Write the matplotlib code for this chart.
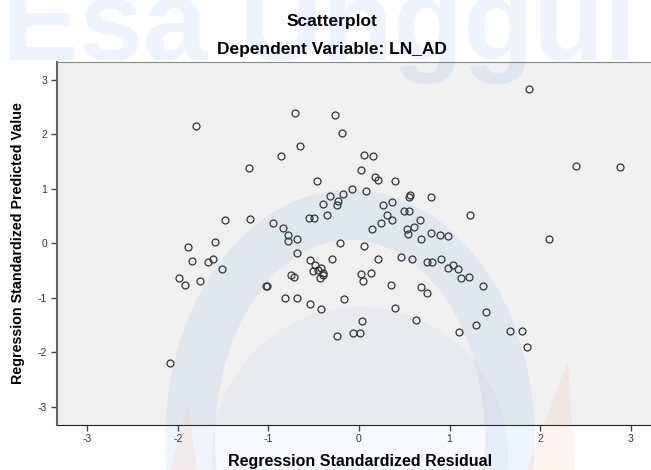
import matplotlib
matplotlib.use('Agg')
import matplotlib.pyplot as plt
from matplotlib.patches import Annulus, Circle, Polygon

plt.rcParams['font.family'] = ['Liberation Sans', 'DejaVu Sans']
plt.rcParams['axes.unicode_minus'] = False

# regression standardized residual (x) vs standardized predicted value (y)
resid = [-1.80, -0.71, -0.86, -1.22, -0.65, -0.27, -0.19, 0.06, 0.15, 0.02,
         -0.46, 0.18, 0.21, 0.40, -0.08, 0.08, -0.32, -0.18, 0.56, 0.55,
         0.80, 1.88, 2.40, 2.88, -1.48, -1.20, -0.95, -0.84, -0.78, -0.78,
         -0.68, -0.69, -1.89, -1.59, -1.85, -1.67, -1.61, -1.51, -1.99, -1.92,
         -1.76, -1.03, -1.02, -0.75, -0.72, -0.82, -0.68, -0.40, -0.23, -0.24,
         -0.55, -0.50, -0.35, -0.21, 0.05, 0.27, 0.37, 0.31, 0.24, 0.36,
         0.14, 0.50, 0.55, 0.67, 0.53, 0.61, 0.54, 0.68, 0.80, 0.90,
         0.98, -0.54, -0.49, -0.51, -0.45, -0.42, -0.40, -0.40, -0.43, -0.30,
         0.21, 0.46, 0.58, 0.75, 0.81, 0.91, 0.98, 1.04, 1.09, 1.13,
         1.21, 1.37, 1.40, 1.29, 1.11, 1.67, 1.80, 1.86, 0.02, 0.13,
         0.04, 0.35, 0.69, 0.75, -0.54, -0.42, -0.17, 0.40, 0.03, 0.63,
         -0.24, -0.07, 0.01, -2.09, 1.23, 2.10]
pred = [2.16, 2.40, 1.61, 1.38, 1.79, 2.36, 2.03, 1.62, 1.61, 1.35,
        1.14, 1.21, 1.16, 1.14, 1.00, 0.96, 0.87, 0.90, 0.89, 0.85,
        0.85, 2.83, 1.41, 1.40, 0.42, 0.45, 0.38, 0.28, 0.16, 0.04,
        0.07, -0.17, -0.07, 0.02, -0.33, -0.34, -0.28, -0.47, -0.63, -0.77,
        -0.69, -0.78, -0.79, -0.58, -0.62, -1.01, -1.01, 0.72, 0.77, 0.71,
        0.47, 0.47, 0.51, 0.01, -0.05, 0.70, 0.75, 0.51, 0.37, 0.42,
        0.26, 0.59, 0.59, 0.43, 0.26, 0.29, 0.17, 0.07, 0.18, 0.15,
        0.14, -0.30, -0.39, -0.50, -0.49, -0.45, -0.54, -0.59, -0.64, -0.29,
        -0.28, -0.25, -0.29, -0.35, -0.35, -0.29, -0.45, -0.39, -0.48, -0.64,
        -0.62, -0.78, -1.26, -1.50, -1.62, -1.61, -1.61, -1.90, -0.56, -0.54,
        -0.70, -0.76, -0.80, -0.91, -1.11, -1.21, -1.03, -1.18, -1.43, -1.41,
        -1.71, -1.64, -1.64, -2.19, 0.51, 0.07]
ticks = [-3, -2, -1, 0, 1, 2, 3]

fig = plt.figure(figsize=(6.51, 4.70), dpi=100)
ax = fig.add_axes([0.087, 0.0964, 0.915, 0.772])
ax.set_facecolor('#f0f0f0')
ax.plot(resid, pred, 'o', fillstyle='none', markersize=5, mew=0.9,
        color='#333333', linestyle='none')
ax.set_xlim(-3.34, 3.24)
ax.set_ylim(-3.33, 3.33)
ax.set_xticks(ticks)
ax.set_yticks(ticks)
ax.tick_params(direction='out', length=4, width=1, color='#444444',
               labelsize=7.5, labelcolor='#333333', pad=3)
ax.spines['left'].set_color('#666666')
ax.spines['left'].set_linewidth(1.5)
ax.spines['bottom'].set_color('#222222')
ax.spines['top'].set_color('#888888')
ax.spines['right'].set_visible(False)

fig.text(0.51, 0.955, 'Scatterplot', ha='center', va='center',
         fontsize=12.5, fontweight='bold')
fig.text(0.51, 0.894, 'Dependent Variable: LN_AD', ha='center', va='center',
         fontsize=12.5, fontweight='bold')
fig.text(0.553, 0.0175, 'Regression Standardized Residual', ha='center',
         va='center', fontsize=11.5, fontweight='bold')
fig.text(0.028, 0.482, 'Regression Standardized Predicted Value', ha='center',
         va='center', rotation=90, fontsize=10.3, fontweight='bold')

# faint watermark overlay
ov = fig.add_axes([0, 0, 1, 1], zorder=5)
ov.set_xlim(0, 651)
ov.set_ylim(0, 470)
ov.axis('off')
ov.patch.set_alpha(0)
blue = (0.2, 0.4, 0.8)
ov.add_patch(Annulus((350, 30), (185, 250), 50, color=blue, alpha=0.07, lw=0))
ov.add_patch(Circle((360, 15), 148, color=blue, alpha=0.04, lw=0))
peach = (0.95, 0.5, 0.3)
ov.add_patch(Polygon([(568, 110), (527, 0), (575, 0)], color=peach, alpha=0.08, lw=0))
ov.add_patch(Polygon([(188, 67), (170, 0), (197, 0)], color=peach, alpha=0.08, lw=0))
ov.text(2, 410, 'Esa Unggul', fontsize=83, fontweight='bold', color=blue,
        alpha=0.08, ha='left', va='baseline')

fig.savefig('out.png', dpi=100)
